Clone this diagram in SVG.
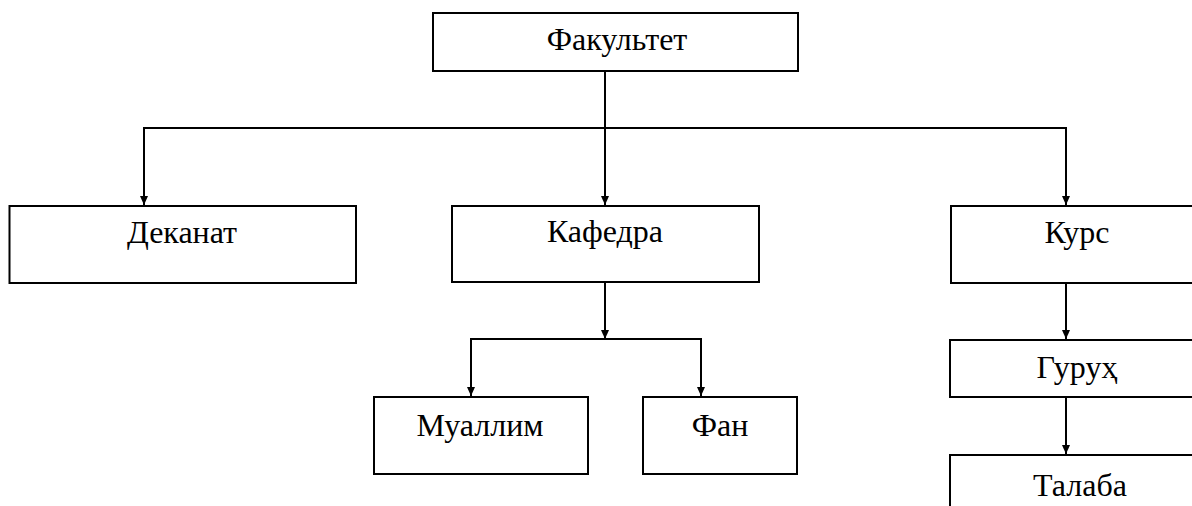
<svg xmlns="http://www.w3.org/2000/svg" width="1192" height="506" viewBox="0 0 1192 506">
<style>
.box{fill:#fff;stroke:#000;stroke-width:2}
.lbl{font-family:'Liberation Serif','Times New Roman',serif;font-size:32px;fill:#000;text-anchor:middle}
.ln{fill:none;stroke:#000;stroke-width:2}
</style>
<defs>
<marker id="ad" markerUnits="userSpaceOnUse" markerWidth="8" markerHeight="9" refX="4" refY="9" viewBox="0 0 8 9">
<path d="M0,0 L8,0 L4,9 Z" fill="#000"/>
</marker>
</defs>
<rect width="1192" height="506" fill="#fff"/>
<g id="connectors">
<line class="ln" x1="605" y1="71" x2="605" y2="205" marker-end="url(#ad)"/>
<polyline class="ln" points="144,205 144,128 1066,128 1066,205"/>
<path d="M140,196 L148,196 L144,205 Z M1062,196 L1070,196 L1066,205 Z" fill="#000"/>
<line class="ln" x1="605" y1="282" x2="605" y2="339" marker-end="url(#ad)"/>
<polyline class="ln" points="471,396 471,339 701,339 701,396"/>
<path d="M467,387 L475,387 L471,396 Z M697,387 L705,387 L701,396 Z" fill="#000"/>
<line class="ln" x1="1066" y1="283" x2="1066" y2="339" marker-end="url(#ad)"/>
<line class="ln" x1="1066" y1="397" x2="1066" y2="454" marker-end="url(#ad)"/>
</g>
<g id="n-fakultet"><rect class="box" x="433" y="13" width="365" height="58"/><text class="lbl" x="617" y="50">Факультет</text></g>
<g id="n-dekanat"><rect class="box" x="9.5" y="206" width="346.5" height="77"/><text class="lbl" x="182" y="243">Деканат</text></g>
<g id="n-kafedra"><rect class="box" x="452" y="206" width="307" height="76"/><text class="lbl" x="605" y="242">Кафедра</text></g>
<g id="n-kurs"><rect class="box" x="951" y="206" width="253" height="77"/><text class="lbl" x="1077" y="243">Курс</text></g>
<g id="n-muallim"><rect class="box" x="374" y="397" width="214" height="77"/><text class="lbl" x="480" y="436">Муаллим</text></g>
<g id="n-fan"><rect class="box" x="643" y="397" width="154" height="77"/><text class="lbl" x="720" y="436">Фан</text></g>
<g id="n-guruh"><rect class="box" x="950" y="340" width="254" height="57"/><text class="lbl" x="1077" y="378">Гуруҳ</text></g>
<g id="n-talaba"><rect class="box" x="950" y="455" width="254" height="70"/><text class="lbl" x="1080" y="496">Талаба</text></g>
</svg>
